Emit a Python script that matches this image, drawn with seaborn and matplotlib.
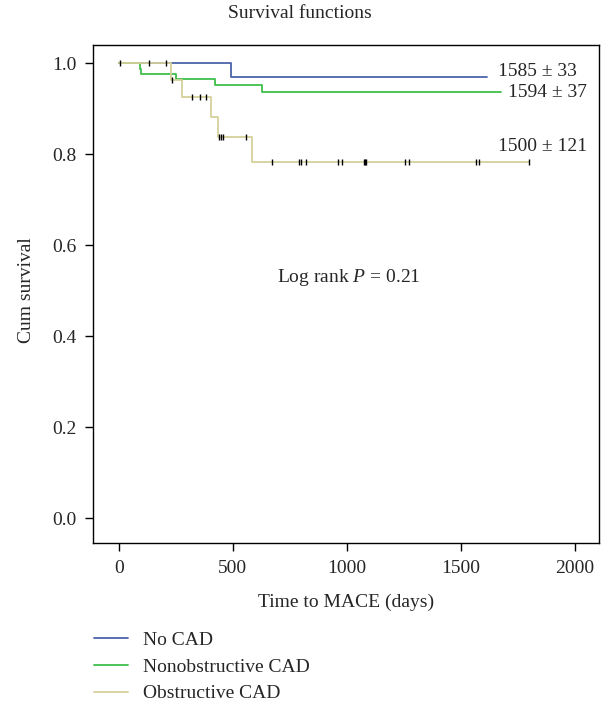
import numpy as np
import pandas as pd
import matplotlib
matplotlib.use("Agg")
import matplotlib.pyplot as plt
import seaborn as sns

# Kaplan-Meier step points (days, cumulative survival)
no_cad_days = [0, 494, 1614]
no_cad_surv = [1.0, 0.969, 0.969]

nonobs_days = [0, 92, 99, 253, 420, 626, 1675]
nonobs_surv = [1.0, 0.988, 0.976, 0.965, 0.952, 0.937, 0.937]

obs_days = [0, 231, 278, 406, 433, 582, 1800]
obs_surv = [1.0, 0.964, 0.926, 0.882, 0.838, 0.783, 0.783]

# censored observations (obstructive group)
obs_censored = [7, 133, 208, 235, 323, 355, 382, 440, 447, 455, 556, 673,
                789, 797, 819, 962, 977, 1075, 1079, 1083, 1254, 1273,
                1566, 1580, 1800]

groups = ["No CAD", "Nonobstructive CAD", "Obstructive CAD"]
mean_labels = ["1585 \u00b1 33", "1594 \u00b1 37", "1500 \u00b1 121"]
colors = ["#4c63a8", "#3fbf4a", "#d6d09a"]

sns.set_style("ticks")
plt.rcParams["font.family"] = ["Liberation Serif", "DejaVu Serif"]
plt.rcParams["mathtext.fontset"] = "custom"
plt.rcParams["mathtext.it"] = "Liberation Serif:italic"
plt.rcParams["mathtext.rm"] = "Liberation Serif"

frames = []
for g, d, s in zip(groups, [no_cad_days, nonobs_days, obs_days],
                   [no_cad_surv, nonobs_surv, obs_surv]):
    frames.append(pd.DataFrame({"days": d, "surv": s, "group": g}))
df = pd.concat(frames, ignore_index=True)

fig = plt.figure(figsize=(6.05, 7.03), dpi=100)
ax = fig.add_axes([0.1537, 0.2276, 0.8364, 0.7084])

sns.lineplot(data=df, x="days", y="surv", hue="group", palette=colors,
             drawstyle="steps-post", linewidth=1.3, ax=ax, legend=False,
             estimator=None, sort=False)

# censor marks sit on the obstructive curve
idx = np.searchsorted(obs_days, obs_censored, side="right") - 1
cens_y = np.array(obs_surv)[idx]
ax.scatter(obs_censored, cens_y, marker="|", s=22, color="black",
           linewidths=1.0, zorder=5)

ax.set_xlim(-113, 2105)
ax.set_ylim(-0.054, 1.040)
ax.set_xticks([0, 500, 1000, 1500, 2000])
ax.set_yticks([0.0, 0.2, 0.4, 0.6, 0.8, 1.0])
ax.set_yticklabels(["0.0", "0.2", "0.4", "0.6", "0.8", "1.0"])
ax.tick_params(labelsize=14, length=6, width=1, color="black", pad=6)
ax.set_xlabel("")
ax.set_ylabel("")
for sp in ax.spines.values():
    sp.set_visible(True)
    sp.set_linewidth(1)
    sp.set_color("black")

# group means at the curve ends
ax.text(1662, 0.982, mean_labels[0], fontsize=14, va="center", ha="left")
ax.text(1707, 0.935, mean_labels[1], fontsize=14, va="center", ha="left")
ax.text(1662, 0.816, mean_labels[2], fontsize=14, va="center", ha="left")
ax.text(1009, 0.530, r"Log rank $\mathit{P}$ = 0.21", fontsize=14,
        va="center", ha="center")

fig.text(0.496, 0.981, "Survival functions", fontsize=14, ha="center", va="center")
fig.text(0.044, 1 - 290 / 703, "Cum survival", fontsize=14, rotation=90,
         ha="center", va="center")
fig.text(346 / 605, 1 - 602 / 703, "Time to MACE (days)", fontsize=14,
         ha="center", va="center")

handles = [plt.Line2D([], [], color=c, linewidth=1.3) for c in colors]
fig.legend(handles, groups, loc="upper left", bbox_to_anchor=(0.155, 1 - 631 / 703),
           frameon=False, fontsize=14, handlelength=1.75, handletextpad=0.8,
           labelspacing=0.48, borderaxespad=0, borderpad=0)

fig.savefig("out.png", dpi=100)
